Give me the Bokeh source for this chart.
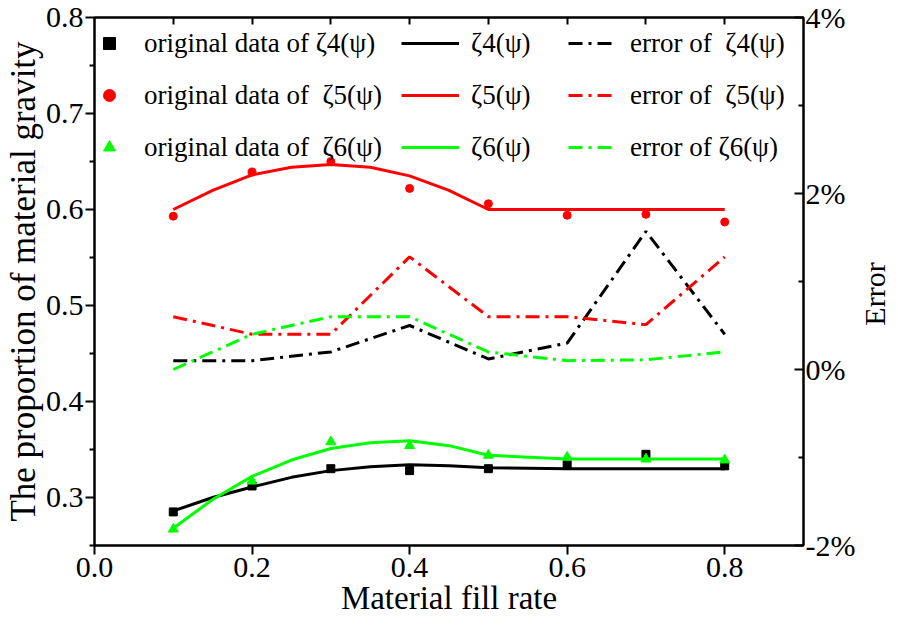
from bokeh.plotting import figure
from bokeh.layouts import row
from bokeh.models import (Range1d, LinearAxis, FixedTicker, NumeralTickFormatter,
                          Legend, LegendItem, Label)
from bokeh.embed import file_html
from bokeh.resources import INLINE

# ---------------- data ----------------
x_fill = [0.1, 0.2, 0.3, 0.4, 0.5, 0.6, 0.7, 0.8]
orig4 = [0.285, 0.312, 0.330, 0.328, 0.330, 0.334, 0.345, 0.333]
orig5 = [0.593, 0.639, 0.650, 0.622, 0.606, 0.594, 0.595, 0.587]
orig6 = [0.267, 0.317, 0.358, 0.354, 0.344, 0.342, 0.340, 0.339]

x_fit = [0.1, 0.15, 0.2, 0.25, 0.3, 0.35, 0.4, 0.45, 0.5, 0.6, 0.7, 0.8]
fit4 = [0.286, 0.300, 0.311, 0.321, 0.328, 0.332, 0.334, 0.333, 0.331, 0.330, 0.330, 0.330]
fit5 = [0.600, 0.620, 0.636, 0.644, 0.647, 0.644, 0.635, 0.620, 0.600, 0.600, 0.600, 0.600]
fit6 = [0.268, 0.298, 0.322, 0.339, 0.351, 0.357, 0.359, 0.354, 0.344, 0.340, 0.340, 0.340]

# errors in percent
err4_pct = [0.10, 0.10, 0.20, 0.50, 0.12, 0.30, 1.57, 0.40]
err5_pct = [0.60, 0.40, 0.40, 1.28, 0.60, 0.60, 0.51, 1.28]
err6_pct = [0.00, 0.40, 0.60, 0.60, 0.20, 0.10, 0.11, 0.20]

x_ticks = [0.0, 0.2, 0.4, 0.6, 0.8]
y_ticks = [0.3, 0.4, 0.5, 0.6, 0.7, 0.8]
y_minor = [0.25, 0.35, 0.45, 0.55, 0.65, 0.75]
err_ticks = [-0.02, 0.0, 0.02, 0.04]
err_minor = [-0.01, 0.01, 0.03]
top_ticks = [0.1, 0.2, 0.3, 0.4, 0.5, 0.6, 0.7, 0.8]

err4 = [v / 100 for v in err4_pct]
err5 = [v / 100 for v in err5_pct]
err6 = [v / 100 for v in err6_pct]

BLACK = "#000000"
RED = "#ff0000"
GREEN = "#00ff00"
FONT = "Liberation Serif"
DASH = "14 6 3 6"

TOP, BOTTOM = 17, 84

p = figure(width=858, height=629, x_range=Range1d(0, 0.9), y_range=Range1d(0.25, 0.8),
           output_backend="svg", toolbar_location=None,
           min_border_left=84, min_border_right=30, min_border_top=TOP, min_border_bottom=BOTTOM)
p.extra_y_ranges = {"err": Range1d(-0.02, 0.04)}
p.xgrid.visible = False
p.ygrid.visible = False
p.outline_line_color = BLACK
p.outline_line_width = 2
p.background_fill_color = "white"
p.border_fill_color = "white"


def style_axis(ax, tick_in=0, tick_out=9, mtick_in=0, mtick_out=5):
    ax.axis_line_color = BLACK
    ax.axis_line_width = 2
    ax.major_tick_line_color = BLACK
    ax.major_tick_line_width = 2
    ax.minor_tick_line_color = BLACK
    ax.minor_tick_line_width = 2
    ax.major_tick_in = tick_in
    ax.major_tick_out = tick_out
    ax.minor_tick_in = mtick_in
    ax.minor_tick_out = mtick_out
    ax.major_label_text_font = FONT
    ax.major_label_text_font_size = "30px"
    ax.major_label_text_color = BLACK
    ax.axis_label_text_font = FONT
    ax.axis_label_text_font_style = "normal"
    ax.axis_label_text_color = BLACK
    ax.major_label_standoff = 2
    ax.axis_label_standoff = 0


xa = p.xaxis[0]
xa.ticker = FixedTicker(ticks=x_ticks, minor_ticks=[])
xa.formatter = NumeralTickFormatter(format="0.0")
xa.axis_label = "Material fill rate"
style_axis(xa)
xa.axis_label_text_font_size = "33px"
xa.major_label_standoff = 3

ya = p.yaxis[0]
ya.ticker = FixedTicker(ticks=y_ticks, minor_ticks=y_minor)
ya.formatter = NumeralTickFormatter(format="0.0")
ya.axis_label = "The proportion of material gravity"
style_axis(ya)
ya.axis_label_text_font_size = "35px"

ra = LinearAxis(y_range_name="err", ticker=FixedTicker(ticks=err_ticks, minor_ticks=err_minor),
                formatter=NumeralTickFormatter(format="0%"))
style_axis(ra, tick_in=9, tick_out=0, mtick_in=5, mtick_out=0)
ra.major_label_standoff = 2
p.add_layout(ra, "right")

# top frame axis: only inward ticks, no labels
ta = LinearAxis(ticker=FixedTicker(ticks=[], minor_ticks=top_ticks))
style_axis(ta, tick_in=0, tick_out=0, mtick_in=7, mtick_out=0)
p.add_layout(ta, "above")

# ---------------- glyphs ----------------
s4 = p.scatter(x_fill, orig4, marker="square", size=8, color=BLACK)
s5 = p.scatter(x_fill, orig5, marker="circle", size=8, color=RED)
s6 = p.scatter(x_fill, orig6, marker="triangle", size=10, color=GREEN)

f4 = p.line(x_fit, fit4, line_color=BLACK, line_width=3)
f5 = p.line(x_fit, fit5, line_color=RED, line_width=3)
f6 = p.line(x_fit, fit6, line_color=GREEN, line_width=3)

e4 = p.line(x_fill, err4, y_range_name="err", line_color=BLACK, line_width=3, line_dash=DASH)
e5 = p.line(x_fill, err5, y_range_name="err", line_color=RED, line_width=3, line_dash=DASH)
e6 = p.line(x_fill, err6, y_range_name="err", line_color=GREEN, line_width=3, line_dash=DASH)


def make_legend(items, loc, gw, standoff):
    lg = Legend(items=items, location=loc, orientation="vertical",
                border_line_color=None, background_fill_alpha=0,
                padding=0, margin=0, spacing=20, label_height=32, glyph_height=32,
                glyph_width=gw, label_standoff=standoff,
                label_text_font=FONT, label_text_font_size="27px", label_text_color=BLACK)
    p.add_layout(lg)
    return lg


make_legend([LegendItem(label="original data of ζ4(ψ)", renderers=[s4]),
             LegendItem(label="original data of  ζ5(ψ)", renderers=[s5]),
             LegendItem(label="original data of  ζ6(ψ)", renderers=[s6])],
            (0, 382), 30, 20)
make_legend([LegendItem(label="ζ4(ψ)", renderers=[f4]),
             LegendItem(label="ζ5(ψ)", renderers=[f5]),
             LegendItem(label="ζ6(ψ)", renderers=[f6])],
            (307, 382), 58, 12)
make_legend([LegendItem(label="error of  ζ4(ψ)", renderers=[e4]),
             LegendItem(label="error of  ζ5(ψ)", renderers=[e5]),
             LegendItem(label="error of ζ6(ψ)", renderers=[e6])],
            (474, 382), 48, 14)

# ---------------- right-axis title panel ----------------
p2 = figure(width=32, height=629, x_range=Range1d(0, 1), y_range=p.y_range,
            output_backend="svg", toolbar_location=None,
            min_border_left=0, min_border_right=0, min_border_top=TOP, min_border_bottom=BOTTOM)
p2.axis.visible = False
p2.grid.visible = False
p2.outline_line_color = None
p2.background_fill_color = "white"
p2.border_fill_color = "white"
p2.add_layout(Label(x=0.5, y=0.512, text="Error", angle=90, angle_units="deg",
                    text_align="center", text_baseline="middle",
                    text_font=FONT, text_font_size="30px", text_color=BLACK))

layout = row(p, p2, spacing=0)
open("out.html", "w").write(file_html(layout, INLINE))
